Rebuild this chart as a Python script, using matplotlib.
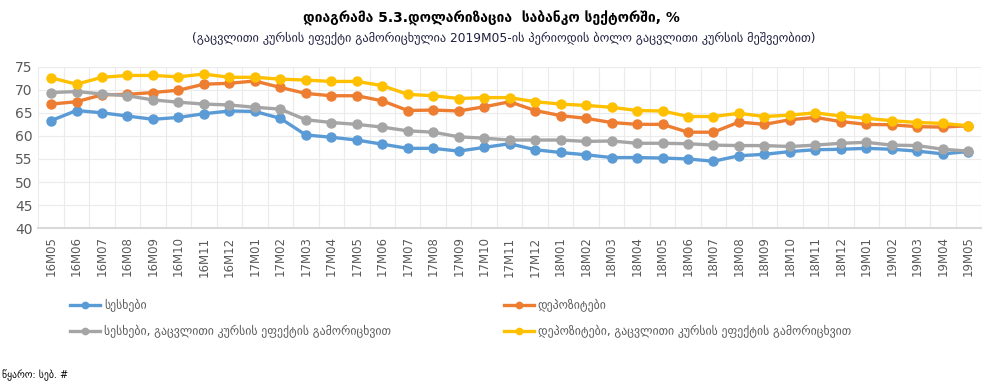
import numpy as np
import matplotlib
matplotlib.use('Agg')
import matplotlib.pyplot as plt

plt.rcParams['font.family'] = ['DejaVu Sans']

# monthly categories 16M05 .. 19M05
months = ['16M05', '16M06', '16M07', '16M08', '16M09', '16M10', '16M11', '16M12',
          '17M01', '17M02', '17M03', '17M04', '17M05', '17M06', '17M07', '17M08',
          '17M09', '17M10', '17M11', '17M12', '18M01', '18M02', '18M03', '18M04',
          '18M05', '18M06', '18M07', '18M08', '18M09', '18M10', '18M11', '18M12',
          '19M01', '19M02', '19M03', '19M04', '19M05']

loans = [63.3, 65.5, 65.0, 64.3, 63.6, 64.0, 64.8, 65.4, 65.3, 63.8, 60.2, 59.7,
         59.1, 58.2, 57.3, 57.3, 56.7, 57.5, 58.3, 57.0, 56.4, 55.9, 55.3, 55.3,
         55.2, 55.0, 54.5, 55.7, 56.0, 56.6, 57.0, 57.1, 57.3, 57.1, 56.7, 56.1, 56.6]
deposits = [66.9, 67.4, 68.9, 69.0, 69.4, 69.9, 71.2, 71.4, 71.9, 70.5, 69.2, 68.7,
            68.7, 67.6, 65.5, 65.6, 65.4, 66.3, 67.4, 65.5, 64.4, 63.8, 62.9, 62.5,
            62.5, 60.8, 60.8, 63.0, 62.5, 63.5, 64.0, 63.1, 62.5, 62.4, 62.0, 61.9, 62.2]
loans_adj = [69.4, 69.6, 69.1, 68.7, 67.8, 67.3, 66.9, 66.7, 66.2, 65.8, 63.5, 62.9,
             62.5, 61.9, 61.1, 60.8, 59.8, 59.5, 59.1, 59.1, 59.1, 58.8, 58.9, 58.4,
             58.4, 58.3, 58.0, 57.9, 57.9, 57.7, 58.0, 58.4, 58.6, 58.0, 57.9, 57.1, 56.7]
deposits_adj = [72.6, 71.2, 72.7, 73.1, 73.1, 72.8, 73.4, 72.7, 72.7, 72.3, 72.1, 71.8,
                71.8, 70.9, 69.0, 68.7, 68.1, 68.3, 68.3, 67.4, 66.9, 66.6, 66.2, 65.5,
                65.4, 64.2, 64.2, 64.9, 64.2, 64.5, 65.0, 64.3, 63.8, 63.3, 62.9, 62.7, 62.2]

labels = ['სესხები', 'დეპოზიტები',
          'სესხები, გაცვლითი კურსის ეფექტის გამორიცხვით',
          'დეპოზიტები, გაცვლითი კურსის ეფექტის გამორიცხვით']
colors = ['#5B9BD5', '#ED7D31', '#A5A5A5', '#FFC000']

fig = plt.figure(figsize=(9.82, 3.9), dpi=100)
ax = fig.add_axes([0.039, 0.415, 0.960, 0.414])

x = np.arange(len(months))
lines = []
for ys, lab, c in zip([loans, deposits, loans_adj, deposits_adj], labels, colors):
    ln, = ax.plot(x, ys, color=c, lw=2.4, marker='o', ms=6.5, label=lab)
    lines.append(ln)

ax.set_xlim(-0.5, len(months) - 0.5)
ax.set_ylim(40, 75)
ax.set_yticks(np.arange(40, 76, 5))
ax.set_xticks(x)
ax.set_xticklabels(months, rotation=90, fontsize=8.5, color='#595959')
ax.set_xticks(np.arange(-0.5, len(months), 1), minor=True)
ax.tick_params(axis='y', labelsize=10, colors='#595959', length=0, pad=4)
ax.tick_params(axis='x', which='both', length=0, pad=6)
ax.grid(True, which='minor', axis='x', color='#EBEBEB', lw=0.8)
ax.grid(True, which='major', axis='y', color='#EBEBEB', lw=0.8)
ax.set_axisbelow(True)
for s in ['top', 'right', 'left']:
    ax.spines[s].set_visible(False)
ax.spines['bottom'].set_color('#D9D9D9')
ax.spines['bottom'].set_linewidth(1.5)

fig.text(0.5, 0.942, 'დიაგრამა 5.3.დოლარიზაცია  საბანკო სექტორში, %',
         ha='center', fontsize=10, fontweight='bold', color='#000000')
fig.text(0.513, 0.892, '(გაცვლითი კურსის ეფექტი გამორიცხულია 2019M05-ის პერიოდის ბოლო გაცვლითი კურსის მეშვეობით)',
         ha='center', fontsize=8.8, color='#1F1F3F')

leg_kw = dict(frameon=False, fontsize=8.5, handlelength=2.6, labelspacing=1.1,
              handletextpad=0.3, labelcolor='#595959', markerscale=0.7)
fig.legend([lines[0], lines[2]], [labels[0], labels[2]], loc='upper left',
           bbox_to_anchor=(0.06, 0.26), **leg_kw)
fig.legend([lines[1], lines[3]], [labels[1], labels[3]], loc='upper left',
           bbox_to_anchor=(0.502, 0.26), **leg_kw)

fig.text(0.002, 0.03, 'წყარო: სებ. #', fontsize=7, color='#000000')

fig.savefig('out.png', dpi=100)
